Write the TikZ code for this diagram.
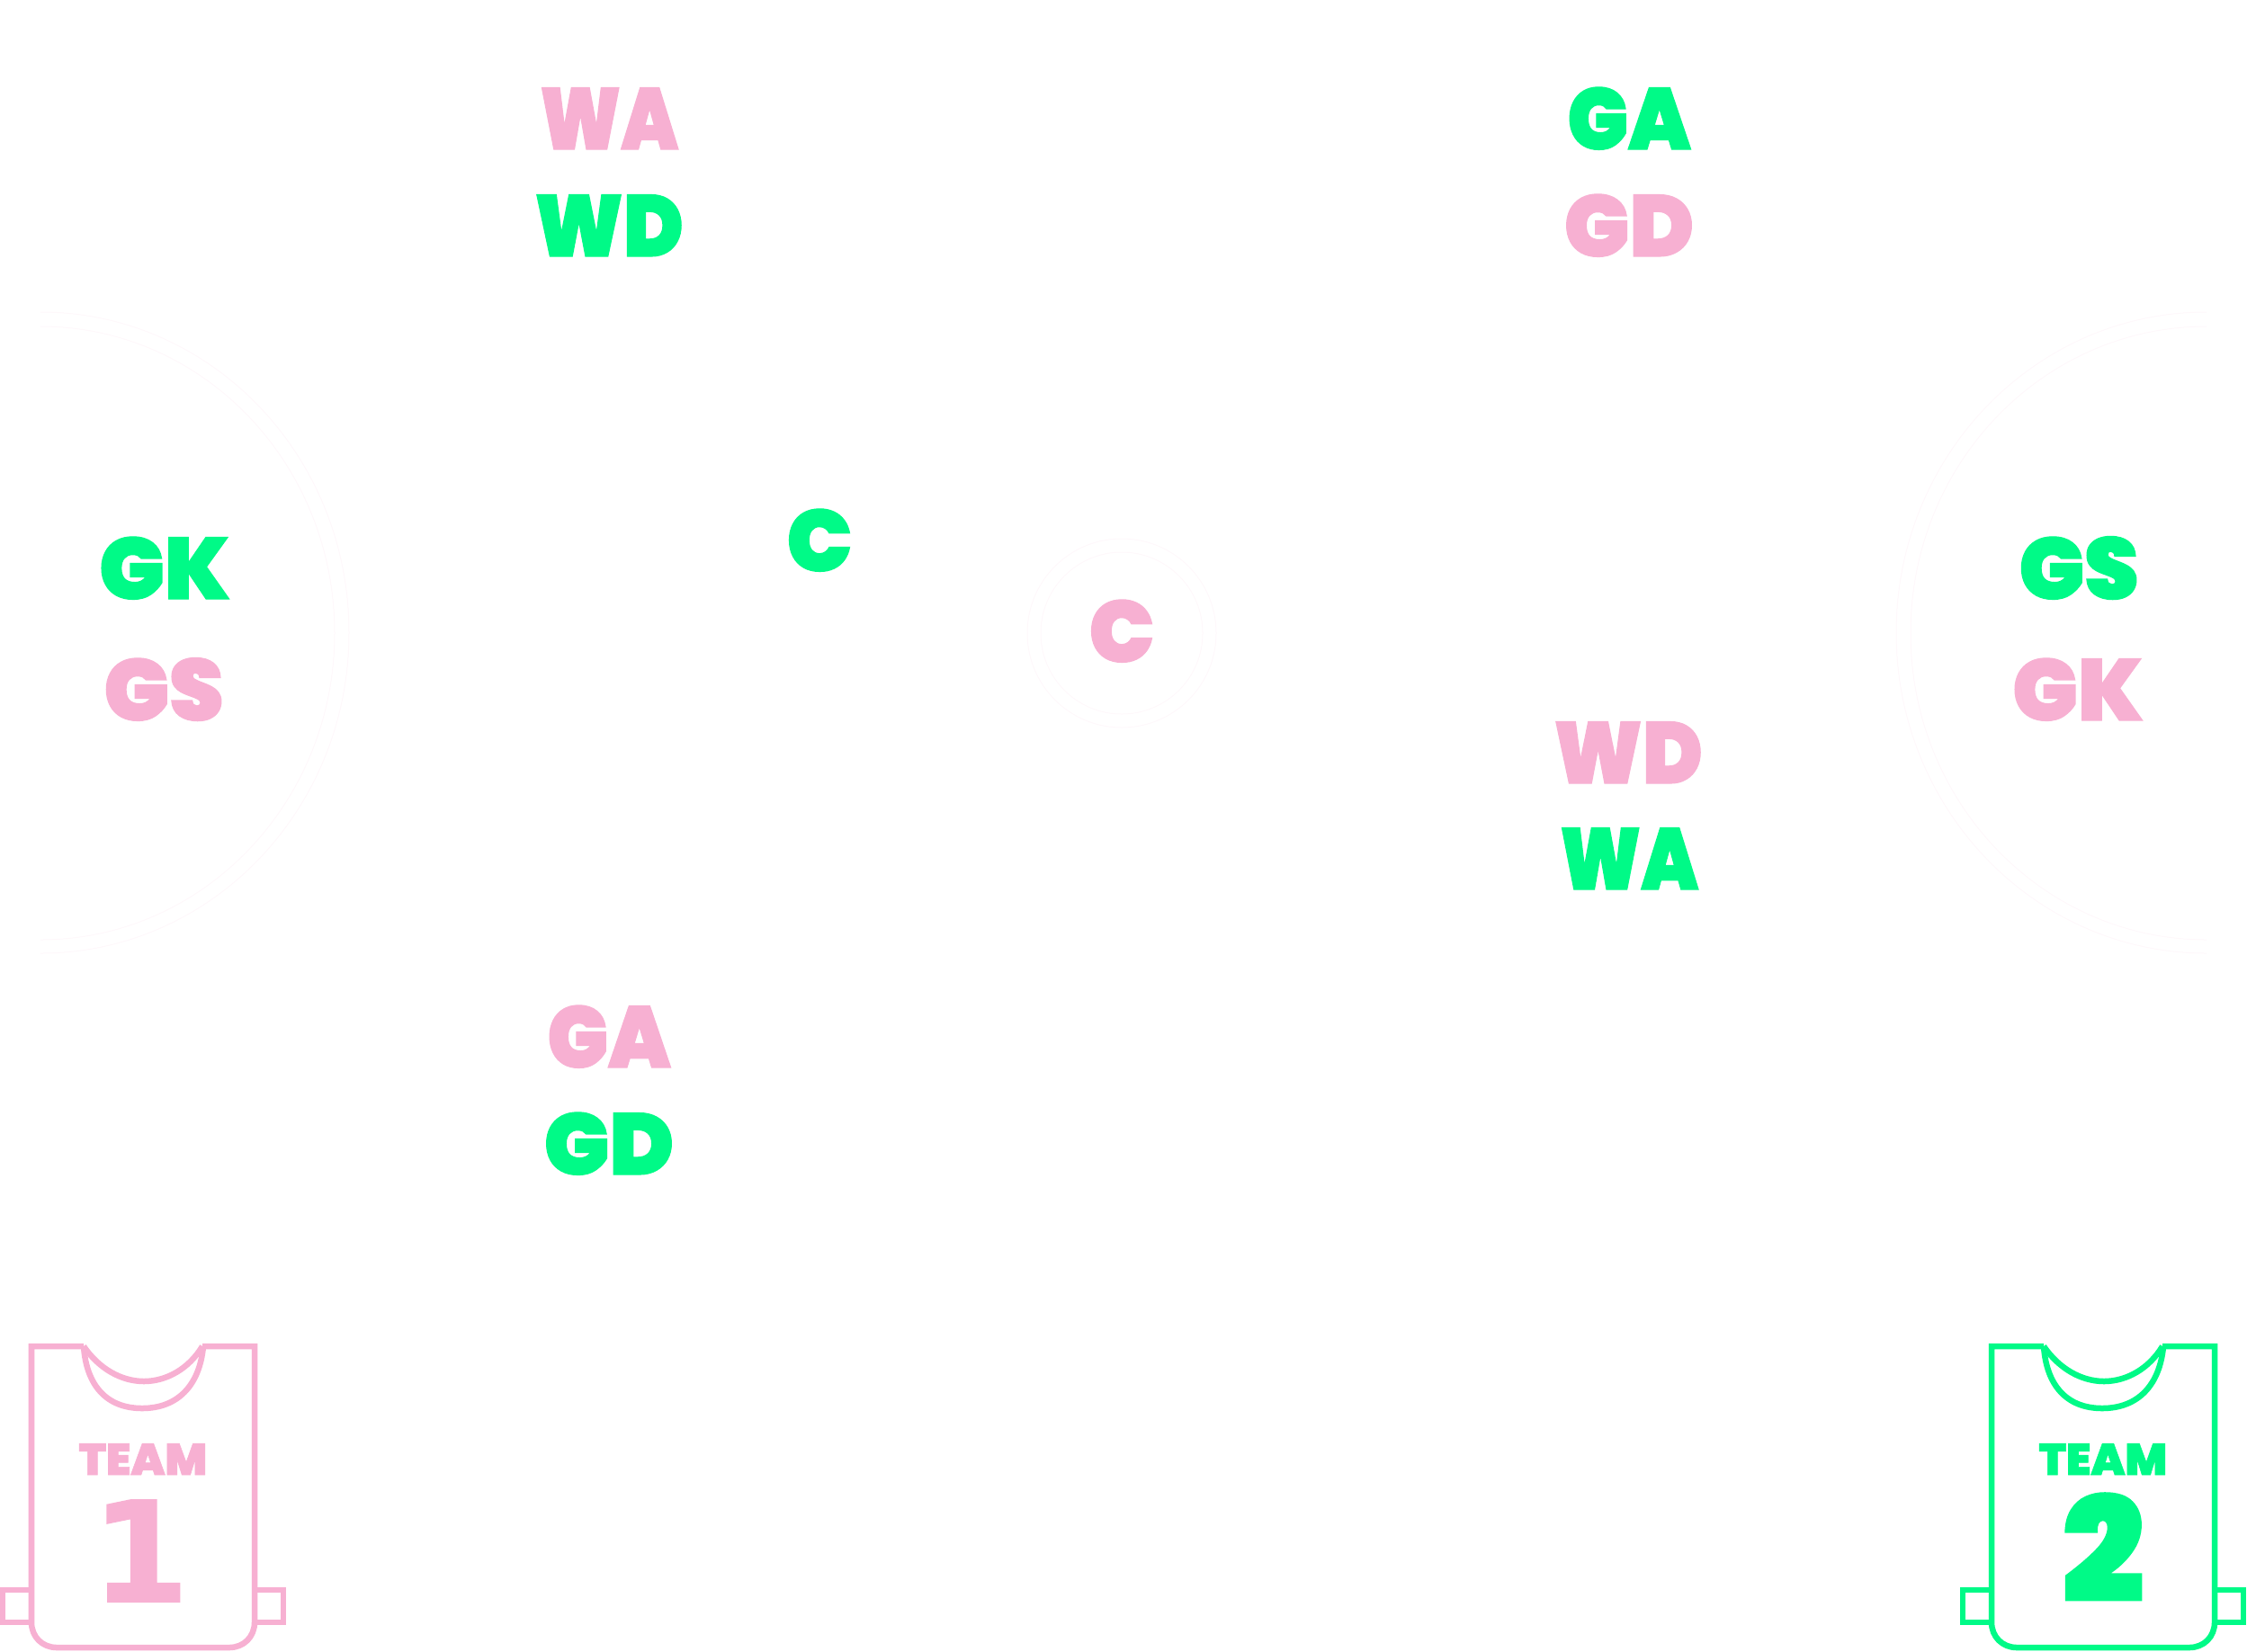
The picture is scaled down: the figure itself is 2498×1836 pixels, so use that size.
\documentclass[tikz,border=0pt]{standalone}
\usepackage{fontspec}
\newfontfamily\bibfont{Poppins Black}[FakeBold=1.2]
\newfontfamily\bibnarrow{Poppins Black}[FakeBold=1.2,FakeStretch=0.93]
\newfontfamily\bibnarrower{Poppins Black}[FakeBold=1.2,FakeStretch=0.85]
\newfontfamily\onefont{DejaVu Sans Bold}[FakeBold=1.5]
\definecolor{teampink}{RGB}{247,176,210}
\definecolor{teamgreen}{RGB}{0,250,135}
\definecolor{courtline}{RGB}{254,248,251}
\newcommand{\possize}{\fontsize{27.5}{27.5}\selectfont}
\newcommand{\WAtxt}{\bibnarrower\possize WA}
\newcommand{\WDtxt}{\bibnarrow\possize WD}
\newcommand{\GAtxt}{\bibnarrow\possize GA}
\tikzset{
  poslabel/.style={anchor=base,inner sep=0pt,font=\bibfont\possize},
  teamlabel/.style={anchor=base,inner sep=0pt,font=\bibfont\fontsize{14}{14}\selectfont},
  numlabel/.style={anchor=base,inner sep=0pt},
  bibline/.style={line width=0.065cm},
  courtarc/.style={courtline,line width=0.01cm}
}
\begin{document}
\begin{tikzpicture}[x=0.01cm,y=-0.01cm]
    \useasboundingbox(0,0)rectangle(2498,1836);
    % court
    \draw[courtarc](45,347)arc(-90:90:343 and 356.5);
    \draw[courtarc](45,363)arc(-90:90:327 and 341);
    \draw[courtarc](2453,347)arc(-90:-270:345 and 356.5);
    \draw[courtarc](2453,363)arc(-90:-270:329 and 341);
    \draw[courtarc](1247,704)circle(105);
    \draw[courtarc](1247,704)circle(90);
    % positions
    \foreach \name/\x/\y/\col/\txt in {wa1/677/166/teampink/\WAtxt,wd2/677/285/teamgreen/\WDtxt,ga2/1811/166/teamgreen/\GAtxt,gd1/1811/285/teampink/GD,
        c2/911/635/teamgreen/C,c1/1247/736/teampink/C,gk2/183/666/teamgreen/GK,gs1/182/801/teampink/GS,
        gs2/2311/666/teamgreen/GS,gk1/2310/801/teampink/GK,wd1/1810/871/teampink/\WDtxt,wa2/1811/989/teamgreen/\WAtxt,
        ga1/677/1187/teampink/\GAtxt,gd2/677/1306/teamgreen/GD}
        \node[poslabel,text=\col](\name)at(\x,\y){\txt};
    % bibs
    \foreach \off/\col/\num/\numx/\numfont in {0/teampink/1/156/\onefont\fontsize{44}{44},2179/teamgreen/2/159/\bibfont\fontsize{46}{46}}{
        \begin{scope}[xshift=\off*0.01cm,\col,bibline]
            \draw(93,1497)--(35,1497)--(35,1804)..controls(35,1820)and(47,1832)..(63,1832)--(255,1832)..controls(271,1832)and(283,1820)..(283,1804)--(283,1497)--(225,1497);
            \draw(93,1497)..controls(110,1522)and(135,1536)..(160,1536)..controls(185,1536)and(210,1522)..(225,1497);
            \draw(93,1497)..controls(96,1540)and(118,1566)..(158,1566)..controls(198,1566)and(222,1540)..(226,1497);
            \draw(35,1768)--(3,1768)--(3,1804)--(35,1804);
            \draw(283,1768)--(315,1768)--(315,1804)--(283,1804);
            \node[teamlabel,text=\col](team\num)at(159,1640){TEAM};
            \node[numlabel,text=\col,font=\numfont\selectfont](num\num)at(\numx,1781){\num};
        \end{scope}
    }
\end{tikzpicture}
\end{document}
